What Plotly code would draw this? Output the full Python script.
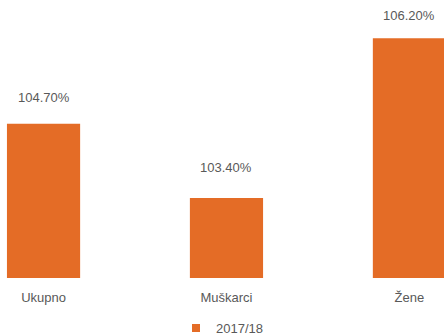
import plotly.graph_objects as go

categories = ["Ukupno", "Muškarci", "Žene"]
values = [104.7, 103.4, 106.2]
value_labels = ["104.70%", "103.40%", "106.20%"]
series_name = "2017/18"
label_shift = [26, 31, 23]

color = "#E46C26"
gray = "#595959"
font = "Liberation Sans"

fig = go.Figure()
fig.add_trace(go.Bar(
    x=categories, y=values, name=series_name,
    marker=dict(color=color, line=dict(width=0)),
    width=0.4, showlegend=False,
))
# legend entry with a small square swatch
fig.add_trace(go.Scatter(
    x=[categories[0]], y=[None], name=series_name, mode="markers",
    marker=dict(symbol="square", size=8, color=color), showlegend=True,
))
for c, v, t, s in zip(categories, values, value_labels, label_shift):
    fig.add_annotation(x=c, y=v, text=t, showarrow=False, yanchor="middle",
                       yshift=s, font=dict(family=font, size=13, color=gray))

fig.update_layout(
    width=444, height=334,
    margin=dict(l=0, r=0, t=0, b=56, autoexpand=False),
    plot_bgcolor="white", paper_bgcolor="white",
    showlegend=True,
    legend=dict(orientation="h", x=0.5, xanchor="center", y=-0.18, yanchor="middle",
                itemwidth=30,
                font=dict(family=font, size=13, color=gray)),
    xaxis=dict(range=[-0.238, 2.189], showgrid=False, showline=False, ticks="",
               automargin=False, ticklabelstandoff=10,
               tickfont=dict(family=font, size=13, color=gray)),
    yaxis=dict(range=[102, 106.87], visible=False, showgrid=False, automargin=False),
    font=dict(family=font, size=13, color=gray),
)
fig.write_html("out.html", config={"displayModeBar": False})

with open("out.html", encoding="utf-8") as f:
    html = f.read()
html = html.replace("<head>", "<head><style>html,body{margin:0;padding:0;overflow:hidden}</style>", 1)
with open("out.html", "w", encoding="utf-8") as f:
    f.write(html)
